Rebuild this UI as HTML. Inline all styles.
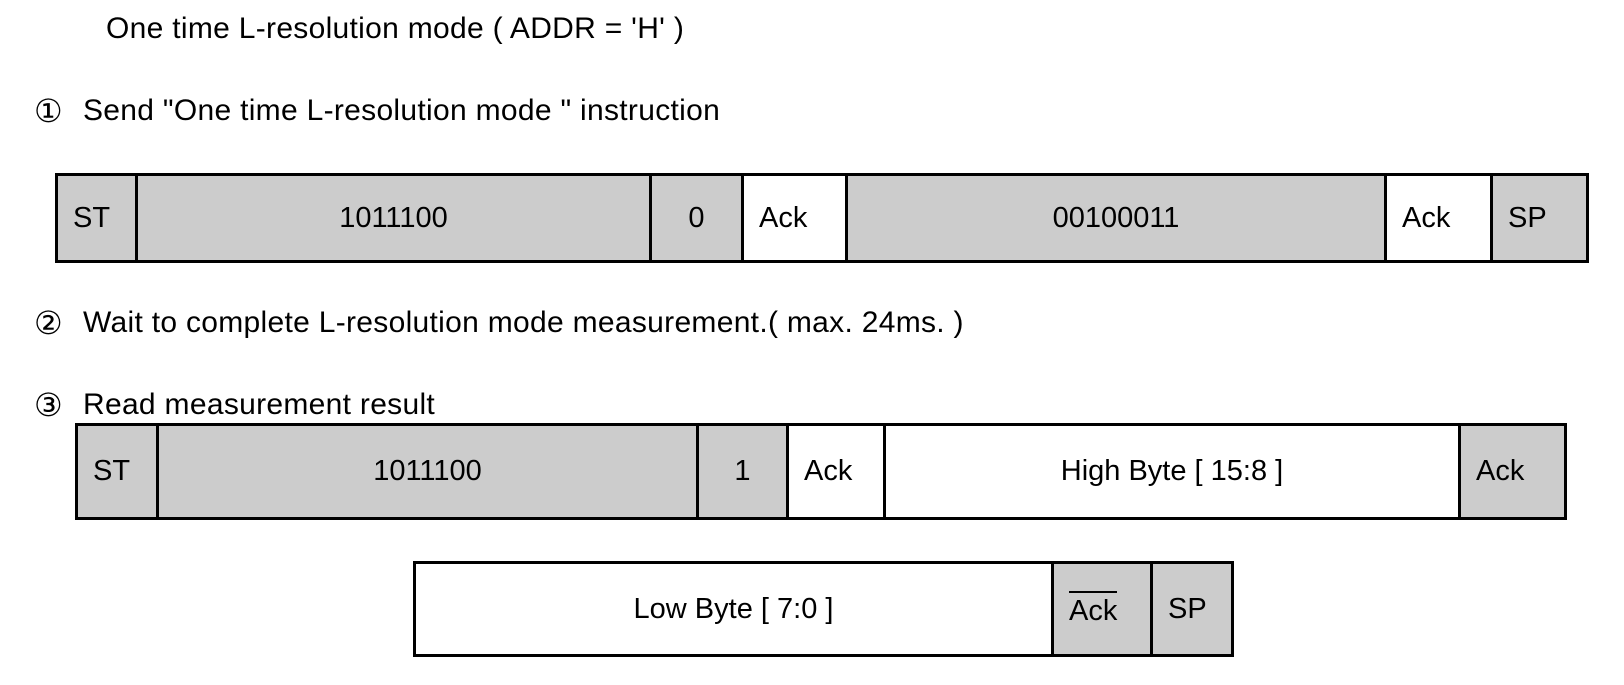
<!DOCTYPE html>
<html><head><meta charset="utf-8"><style>
body{margin:0;width:1624px;height:685px;background:#fff;position:relative;overflow:hidden;font-family:"Liberation Sans",Arial,sans-serif;color:#000}
.t{position:absolute;font-size:30px;white-space:nowrap;line-height:34px;letter-spacing:0.3px}
.n{position:absolute;font-size:32px;line-height:34px;left:34px}
.c{position:absolute;box-sizing:border-box;border:3px solid #000;background:#cccccc;font-size:29px;display:flex;align-items:center;justify-content:center;white-space:nowrap}
.w{background:#fff}
.l{justify-content:flex-start;padding-left:15px}
</style></head><body>
<div class="t" style="left:106px;top:12px">One time L-resolution mode ( ADDR = 'H' )</div>
<div class="n" style="top:94px">①</div><div class="t" style="left:83px;top:94px">Send "One time L-resolution mode " instruction</div>
<div class="n" style="top:306px">②</div><div class="t" style="left:83px;top:306px">Wait to complete L-resolution mode measurement.( max. 24ms. )</div>
<div class="n" style="top:388px">③</div><div class="t" style="left:83px;top:388px">Read measurement result</div>

<div class="c l" style="left:55px;top:173px;width:83px;height:90px">ST</div>
<div class="c" style="left:135px;top:173px;width:517px;height:90px">1011100</div>
<div class="c" style="left:649px;top:173px;width:95px;height:90px">0</div>
<div class="c w l" style="left:741px;top:173px;width:107px;height:90px">Ack</div>
<div class="c" style="left:845px;top:173px;width:542px;height:90px">00100011</div>
<div class="c w l" style="left:1384px;top:173px;width:109px;height:90px">Ack</div>
<div class="c l" style="left:1490px;top:173px;width:99px;height:90px">SP</div>

<div class="c l" style="left:75px;top:423px;width:84px;height:97px">ST</div>
<div class="c" style="left:156px;top:423px;width:543px;height:97px">1011100</div>
<div class="c" style="left:696px;top:423px;width:93px;height:97px">1</div>
<div class="c w l" style="left:786px;top:423px;width:100px;height:97px">Ack</div>
<div class="c w" style="left:883px;top:423px;width:578px;height:97px">High Byte [ 15:8 ]</div>
<div class="c l" style="left:1458px;top:423px;width:109px;height:97px">Ack</div>

<div class="c w" style="left:413px;top:561px;width:641px;height:96px">Low Byte [ 7:0 ]</div>
<div class="c l" style="left:1051px;top:561px;width:102px;height:96px"><span style="border-top:2px solid #000;padding-top:2px">Ack</span></div>
<div class="c l" style="left:1150px;top:561px;width:84px;height:96px">SP</div>
</body></html>
